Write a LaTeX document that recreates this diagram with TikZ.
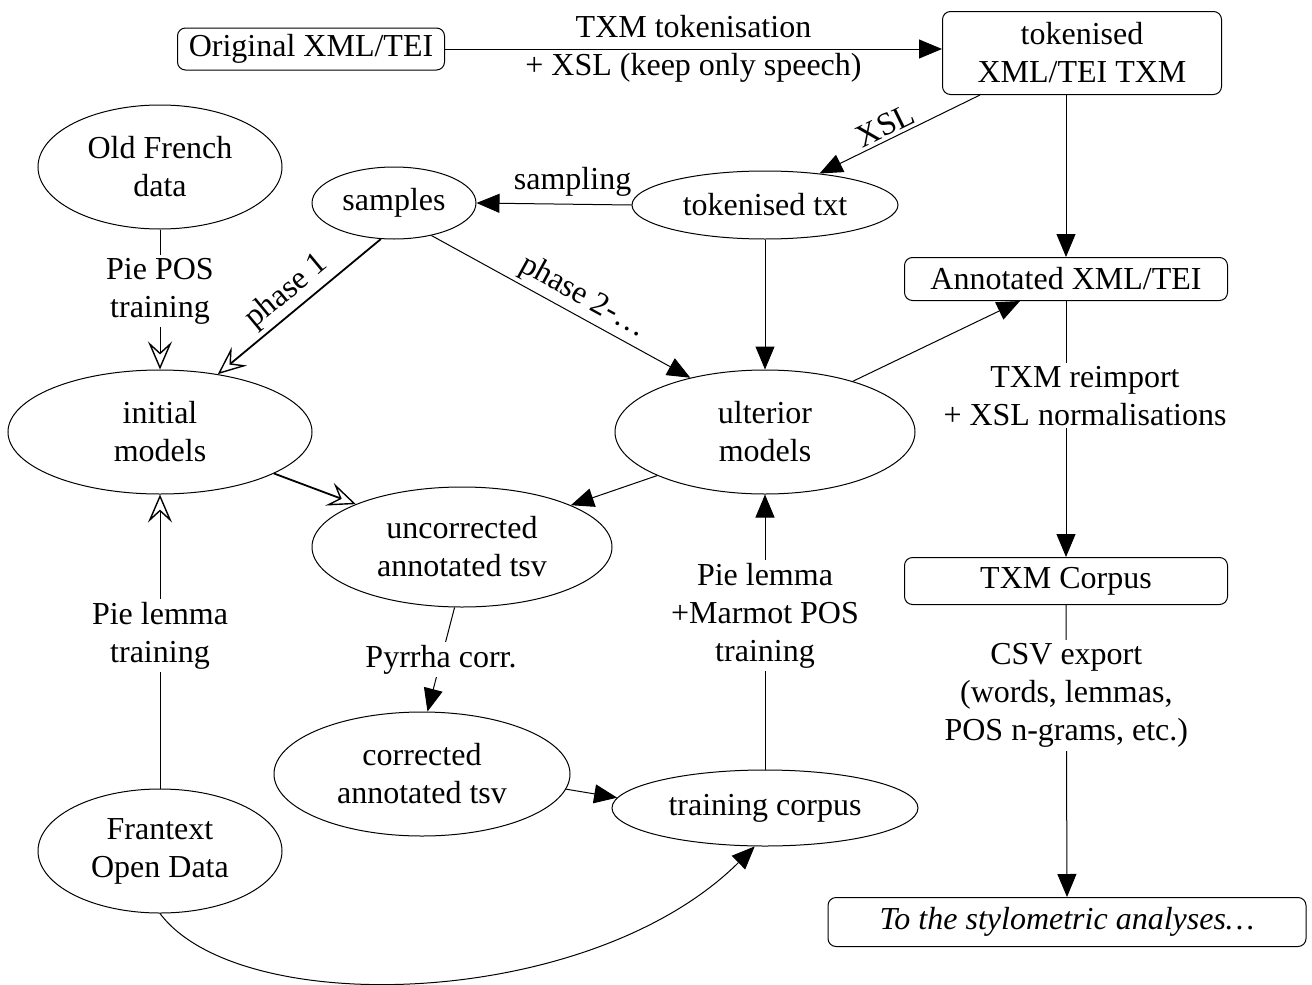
\documentclass[tikz,border=0pt]{standalone}
\usepackage{fontspec}
\setmainfont{Liberation Serif}
\usetikzlibrary{shapes.geometric,arrows.meta}
\tikzset{
  every node/.style={font=\fontsize{32}{38}\selectfont},
  box/.style={draw, rounded corners=8pt, line width=1pt, align=center, inner sep=0pt},
  ell/.style={draw, ellipse, line width=1pt, align=center, inner sep=0pt},
  arr/.style={-{Triangle[length=23pt,width=19pt]}, line width=1pt},
  oarr/.style={-{Stealth[open,length=28pt,width=24pt,inset=11pt,line width=1.4pt]}, line width=1pt},
  lbl/.style={fill=white, align=center, inner sep=3pt},
  plain/.style={align=center, inner sep=2pt},
}
\begin{document}
\begin{tikzpicture}[x=1pt,y=-1pt]
\useasboundingbox (0,0) rectangle (1312,985);
% boxes
\node[box, minimum width=267pt, minimum height=42pt] (orig) at (311,49) {Original XML/TEI};
\node[box, minimum width=279pt, minimum height=83pt] (tei) at (1082,53) {tokenised\\XML/TEI TXM};
\node[box, minimum width=323pt, minimum height=43pt] (annot) at (1066,279) {Annotated XML/TEI};
\node[box, minimum width=323pt, minimum height=47pt] (tcorp) at (1066,581) {TXM Corpus};
\node[box, minimum width=478pt, minimum height=49pt] (styl) at (1067,922) {\itshape To the stylometric analyses\dots};
% ellipses
\node[ell, minimum width=244pt, minimum height=124pt] (oldfr) at (160,167) {Old French\\data};
\node[ell, minimum width=164pt, minimum height=72pt] (samples) at (394,203) {samples};
\node[ell, minimum width=266pt, minimum height=68pt] (toktxt) at (765,205) {tokenised txt};
\node[ell, minimum width=304pt, minimum height=124pt] (initial) at (160,432) {initial\\models};
\node[ell, minimum width=300pt, minimum height=124pt] (ulter) at (765,432) {ulterior\\models};
\node[ell, minimum width=300pt, minimum height=120pt] (uncorr) at (462,547) {uncorrected\\annotated tsv};
\node[ell, minimum width=296pt, minimum height=124pt] (corr) at (422,774) {corrected\\annotated tsv};
\node[ell, minimum width=306pt, minimum height=76pt] (train) at (765,808) {training corpus};
\node[ell, minimum width=244pt, minimum height=124pt] (fran) at (160,851) {Frantext\\Open Data};
% edges
\draw[arr] (orig.east) -- node[plain] (ltok) {TXM tokenisation\\+ XSL (keep only speech)} (orig.east -| tei.west);
\draw[arr] ([xshift=-102pt]tei.south) -- node[sloped, above, pos=0.55, inner sep=3pt] (lxsl) {XSL} (toktxt.30);
\draw[arr] (tei.south -| annot.north) -- (annot.north);
\draw[arr] (toktxt.west) -- node[above, pos=0.38, inner sep=7pt] (lsamp) {sampling} (samples.east);
\draw[oarr] (oldfr.south) -- node[lbl, pos=0.44] (lpos) {Pie POS\\training} (initial.north);
\draw[oarr, line width=1.8pt] (samples.250) -- node[sloped, above, pos=0.5, inner sep=4pt] (lph1) {phase 1} (initial.45);
\draw[arr] (samples.-41) -- node[sloped, above, pos=0.55, inner sep=4pt] (lph2) {phase 2-\dots} (ulter.144);
\draw[arr] (toktxt.south) -- (ulter.north);
\draw[arr] (ulter.30) -- ([xshift=-46pt]annot.south);
\draw[arr] (annot.south) -- node[lbl, pos=0.37, xshift=19pt] (lreimp) {TXM reimport\\+ XSL normalisations} (tcorp.north);
\draw[arr] (tcorp.south) -- node[lbl, pos=0.31] (lcsv) {CSV export\\(words, lemmas,\\POS n-grams, etc.)} (styl.north);
\draw[oarr, line width=1.8pt] (initial.-20) -- (uncorr.158);
\draw[arr] (ulter.202) -- (uncorr.21);
\draw[arr] (uncorr.263) -- node[lbl, pos=0.5] (lpyr) {Pyrrha corr.} (corr.85);
\draw[arr] (corr.-6) -- (train.176);
\draw[arr] (train.north) -- node[lbl, pos=0.56] (lmar) {Pie lemma\\+Marmot POS\\training} (ulter.south);
\draw[oarr] (fran.north) -- node[lbl, pos=0.52] (llem) {Pie lemma\\training} (initial.south);
\draw[arr] (fran.south) .. controls (240,1020) and (590,1010) .. (train.-105);
\end{tikzpicture}
\end{document}
